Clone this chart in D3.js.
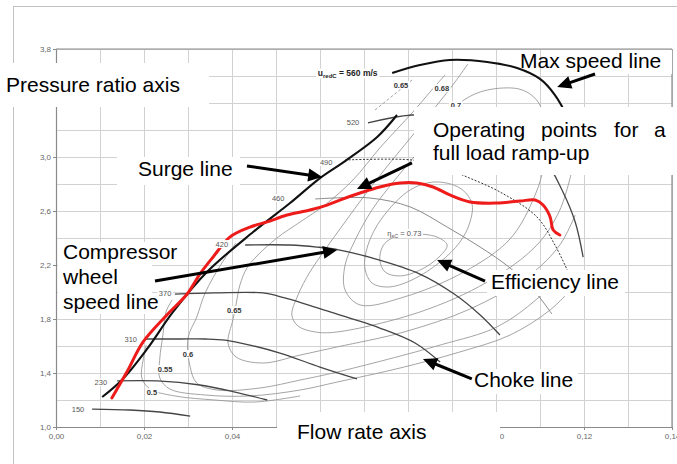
<!DOCTYPE html>
<html>
<head>
<meta charset="utf-8">
<script src="https://cdn.jsdelivr.net/npm/d3@7"></script>
<style>
  html, body { margin: 0; padding: 0; background: #fff; }
  svg { display: block; font-family: "Liberation Sans", Arial, Helvetica, sans-serif; }
  .small-text { opacity: 0.99; }
</style>
</head>
<body>
<svg id="chart" width="677" height="464"></svg>
<script>
// ---- axis ticks ----
const xTicks = [0, 0.02, 0.04, 0.06, 0.08, 0.10, 0.12, 0.14];
const yTicks = [1.0, 1.4, 1.8, 2.2, 2.6, 3.0, 3.4, 3.8];
// tick labels that sit under the axis captions are left blank
const xTicksUnlabelled = [0.06, 0.08];

// ---- surge line and full-load ramp-up (flow rate, pressure ratio) ----
const surgeLine = [[.0105,1.222],[.0152,1.356],[.0207,1.578],[.0266,1.852],[.0343,2.148],[.0448,2.444],
  [.0532,2.659],[.0600,2.844],[.0657,2.970],[.0730,3.148],[.0775,3.311]];
const rampUp = [[.0127,1.215],[.0161,1.407],[.0198,1.630],[.0252,1.830],[.0298,1.985],[.0327,2.133],
  [.0357,2.259],[.0395,2.407],[.0441,2.481],[.0480,2.519],[.0525,2.570],[.0577,2.607],[.0616,2.644],
  [.0645,2.681],[.0691,2.733],[.0736,2.778],[.0782,2.807],[.0820,2.807],[.0857,2.778],[.0895,2.719],
  [.0941,2.667],[.1002,2.659],[.1055,2.674],[.1089,2.681],[.1107,2.644],[.1123,2.556],[.1130,2.459],[.1145,2.422]];

// ---- compressor wheel speed lines (u_redC, m/s) ----
const speed150 = [[.0082,1.133],[.0168,1.126],[.0236,1.111],[.0305,1.081]];
const speed230 = [[.0139,1.341],[.0230,1.341],[.0327,1.311],[.0407,1.259],[.0480,1.200]];
const speed310 = [[.0202,1.652],[.0282,1.652],[.0339,1.652],[.0384,1.644],[.0441,1.607],[.0509,1.548],[.0600,1.444],[.0684,1.356]];
const speed370 = [[.0270,1.985],[.0361,1.993],[.0470,1.993],[.0520,1.956],[.0623,1.852],[.0736,1.733],[.0816,1.622],[.0873,1.481]];
const speed420 = [[.0430,2.348],[.0532,2.348],[.0593,2.333],[.0645,2.311],[.0718,2.252],[.0827,2.133],[.0905,1.985],[.0964,1.830],[.1009,1.681]];
const speed460 = [[.0589,2.689],[.0714,2.696],[.0805,2.630],[.0889,2.481],[.0964,2.333],[.1032,2.178],[.1089,2.000],[.1127,1.837]];
const speed490 = [[.0657,2.978],[.0809,2.978],[.0873,2.933],[.0934,2.852],[.1009,2.741],[.1093,2.556],[.1134,2.348],[.1164,2.148]];
const speed520 = [[.0709,3.252],[.0809,3.311],[.0941,3.289],[.1043,3.163],[.1111,2.978],[.1150,2.756],[.1180,2.519],[.1198,2.259]];
const speedMax = [[.0764,3.622],[.0827,3.681],[.0895,3.719],[.0980,3.704],[.1048,3.659],[.1100,3.578],[.1134,3.459],[.1164,3.289]];
const speedLabels = ["150","230","310","370","420","460","490","520"];
const speedLabelAt = [[.0050,1.133],[.0102,1.333],[.0170,1.652],[.0248,1.993],[.0377,2.356],[.0505,2.696],[.0614,2.963],[.0675,3.259]];

// ---- isentropic efficiency contours ----
const eta050 = [[.0205,1.607],[.0198,1.496],[.0195,1.363],[.0214,1.281],[.0270,1.230],[.0361,1.200],[.0452,1.185],[.0555,1.230]];
const eta055 = [[.0264,1.941],[.0250,1.852],[.0243,1.681],[.0236,1.511],[.0236,1.363],[.0259,1.281],[.0339,1.237],[.0441,1.230],
  [.0555,1.274],[.0639,1.333],[.0782,1.437],[.0918,1.556],[.1032,1.681],[.1123,1.867],[.1180,2.052]];
const eta060 = [[.0409,2.363],[.0377,2.215],[.0339,1.993],[.0320,1.815],[.0300,1.659],[.0305,1.444],[.0320,1.326],[.0366,1.274],
  [.0464,1.289],[.0555,1.348],[.0639,1.407],[.0873,1.607],[.1002,1.741],[.1093,1.948],[.1157,2.163]];
const eta065 = [[.0884,3.607],[.0850,3.481],[.0811,3.333],[.0736,3.067],[.0675,2.830],[.0611,2.644],[.0555,2.519],[.0502,2.400],
  [.0459,2.274],[.0434,2.178],[.0418,2.052],[.0409,1.904],[.0402,1.793],[.0391,1.622],[.0409,1.519],[.0470,1.474],[.0555,1.533],
  [.0639,1.593],[.0791,1.704],[.0941,1.874],[.1077,2.126],[.1145,2.348],[.1180,2.570]];
const eta065Ext = [[.0725,3.348],[.0809,3.570]];
const eta068 = [[.0936,3.689],[.0907,3.556],[.0866,3.385],[.0811,3.163],[.0759,2.956],[.0702,2.719],[.0657,2.519],[.0611,2.311],
  [.0577,2.148],[.0550,1.978],[.0536,1.830],[.0550,1.748],[.0589,1.704],[.0639,1.704],[.0827,1.852],[.0980,2.074],[.1093,2.348],
  [.1145,2.607],[.1173,2.904]];
const eta070 = [[.0927,3.422],[.0980,3.496],[.1052,3.504],[.1086,3.444],[.1105,3.348],[.1114,3.163],[.1109,2.941],[.1089,2.719],
  [.1032,2.393],[.0927,2.148],[.0791,1.963],[.0691,1.904],[.0657,2.015],[.0657,2.200],[.0680,2.385],[.0718,2.607],[.0770,2.830],
  [.0827,3.052],[.0877,3.259]];
const eta072 = [[.0805,2.756],[.0861,2.815],[.0918,2.770],[.0945,2.659],[.0941,2.519],[.0918,2.370],[.0873,2.222],[.0809,2.089],
  [.0755,2.037],[.0718,2.067],[.0702,2.178],[.0709,2.348],[.0741,2.548]];
const eta073 = [[.0764,2.400],[.0743,2.341],[.0736,2.237],[.0748,2.148],[.0782,2.119],[.0832,2.170],[.0873,2.267],[.0889,2.348],
  [.0866,2.407],[.0809,2.430]];
const etaLabels = ["0.5","0.55","0.6","0.65","0.65","0.68","0.7"];
const etaLabelAt = [[.0218,1.259],[.0248,1.430],[.0300,1.541],[.0405,1.867],[.0784,3.533],[.0877,3.511],[.0909,3.385]];

// ---- annotation arrows: [tail, tip] in (flow rate, pressure ratio) ----
const arrowSurge      = [[.0434,2.933],[.0605,2.852]];
const arrowMaxSpeed   = [[.1225,3.615],[.1139,3.519]];
const arrowOperating  = [[.0809,2.956],[.0684,2.763]];
const arrowWheel      = [[.0225,2.081],[.0639,2.311]];
const arrowEfficiency = [[.0975,2.081],[.0866,2.237]];
const arrowChoke      = [[.0945,1.356],[.0834,1.504]];

// ---------------------------------------------------------------------
const svg = d3.select("#chart");
const x = d3.scaleLinear().domain([0, 0.14]).range([56, 672]);
const y = d3.scaleLinear().domain([1, 3.8]).range([427, 49]);
const comma = f => v => d3.format(f)(v).replace(".", ",");

// outer frame
svg.append("rect").attr("x", 13.5).attr("y", 6.5).attr("width", 700).attr("height", 500)
  .attr("fill", "#fff").attr("stroke", "#c2c2c2");

// grid
const grid = svg.append("g").attr("stroke", "#d2d2d2").attr("stroke-width", 1);
x.ticks(14).forEach(v => grid.append("line")
  .attr("x1", Math.round(x(v)) + 0.5).attr("x2", Math.round(x(v)) + 0.5)
  .attr("y1", y(3.8)).attr("y2", y(1)));
y.ticks(14).forEach(v => grid.append("line")
  .attr("y1", Math.round(y(v)) + 0.5).attr("y2", Math.round(y(v)) + 0.5)
  .attr("x1", x(0)).attr("x2", x(0.14)));

// frame of the plot area
const frame = svg.append("g").attr("stroke", "#8a8a8a").attr("stroke-width", 1.2);
frame.append("line").attr("x1", x(0)).attr("x2", x(0.14)).attr("y1", y(3.8)).attr("y2", y(3.8));
frame.append("line").attr("x1", x(0.14)).attr("x2", x(0.14)).attr("y1", y(3.8)).attr("y2", y(1));

// axes
const xFmt = v => xTicksUnlabelled.some(u => Math.abs(u - v) < 1e-9) ? "" : comma(".2f")(v);
const xAxis = svg.append("g").attr("class", "small-text").attr("transform", `translate(0,${y(1)})`)
  .call(d3.axisBottom(x).tickValues(xTicks).tickSize(3).tickSizeOuter(0).tickPadding(3).tickFormat(xFmt));
const yAxis = svg.append("g").attr("class", "small-text").attr("transform", `translate(${x(0)},0)`)
  .call(d3.axisLeft(y).tickValues(yTicks).tickSize(3).tickSizeOuter(0).tickPadding(2).tickFormat(comma(".1f")));
[xAxis, yAxis].forEach(a => {
  a.select(".domain").attr("stroke", "#8a8a8a").attr("stroke-width", 1.2);
  a.selectAll(".tick line").attr("stroke", "#8a8a8a");
  a.selectAll("text").attr("fill", "#666").attr("font-size", 8).attr("font-family", "Liberation Sans, Arial, sans-serif");
});

const smooth = d3.line().x(d => x(d[0])).y(d => y(d[1])).curve(d3.curveCatmullRom.alpha(0.5));
const loop = d3.line().x(d => x(d[0])).y(d => y(d[1])).curve(d3.curveCatmullRomClosed.alpha(0.5));

// efficiency contours
const contours = svg.append("g").attr("fill", "none").attr("stroke", "#939393").attr("stroke-width", 0.85);
[eta050, eta055, eta060, eta065, eta068].forEach(c => contours.append("path").attr("d", smooth(c)));
contours.append("path").attr("d", smooth(eta065Ext)).attr("stroke-dasharray", "3,2");
[eta070, eta072, eta073].forEach(c => contours.append("path").attr("d", loop(c)));

// speed lines
const speeds = svg.append("g").attr("fill", "none");
[speed150, speed230, speed310, speed370, speed420, speed520].forEach(s =>
  speeds.append("path").attr("d", smooth(s)).attr("stroke", "#454545").attr("stroke-width", 1.3));
speeds.append("path").attr("d", smooth(speed460)).attr("stroke", "#8a8a8a").attr("stroke-width", 1);
speeds.append("path").attr("d", smooth(speed490)).attr("stroke", "#333").attr("stroke-width", 1)
  .attr("stroke-dasharray", "2,1.6");
speeds.append("path").attr("d", smooth(speedMax)).attr("stroke", "#111").attr("stroke-width", 2.1);

// surge line and ramp-up
svg.append("path").attr("d", smooth(surgeLine)).attr("fill", "none").attr("stroke", "#111").attr("stroke-width", 2.1);
svg.append("path").attr("d", smooth(rampUp)).attr("fill", "none").attr("stroke", "#ee1b1b")
  .attr("stroke-width", 3).attr("stroke-linejoin", "round").attr("stroke-linecap", "round");

// small map labels, each on a white patch that interrupts the line beneath
const labelLayer = svg.append("g").attr("class", "small-text");
function mapLabel(px, py, build, anchor) {
  const g = labelLayer.append("g");
  const bg = g.append("rect").attr("fill", "#fff");
  const t = g.append("text").attr("x", px).attr("y", py).attr("dy", "0.35em")
    .attr("text-anchor", anchor || "middle").attr("font-size", 7.5);
  build(t);
  const b = t.node().getBBox();
  bg.attr("x", b.x - 1.5).attr("y", b.y + 0.5).attr("width", b.width + 3).attr("height", b.height - 1);
  return t;
}
speedLabels.forEach((s, i) => mapLabel(x(speedLabelAt[i][0]), y(speedLabelAt[i][1]),
  t => t.attr("fill", "#555").text(s)));
etaLabels.forEach((s, i) => mapLabel(x(etaLabelAt[i][0]), y(etaLabelAt[i][1]),
  t => t.attr("fill", "#333").attr("font-weight", "bold").text(s)));
mapLabel(x(0.0753), y(2.437), t => {
  t.attr("fill", "#555");
  t.append("tspan").text("η");
  t.append("tspan").attr("font-size", 5.5).attr("dy", 2).text("sC");
  t.append("tspan").attr("dy", -2).text(" = 0.73");
}, "start");
mapLabel(x(0.0595), y(3.622), t => {
  t.attr("fill", "#222").attr("font-size", 8.5).attr("font-weight", "bold");
  t.append("tspan").text("u");
  t.append("tspan").attr("font-size", 6).attr("dy", 2).text("redC");
  t.append("tspan").attr("dy", -2).text(" = 560 m/s");
}, "start");

// annotation boxes
const boxes = [
  [0, 63, 209, 44],      // pressure ratio axis
  [117, 157, 123, 28],   // surge line
  [545, 50, 127, 24],    // max speed line
  [414, 107, 263, 68],   // operating points
  [58, 242, 94, 72],     // compressor wheel speed line
  [487, 270, 138, 26],   // efficiency line
  [470, 369, 108, 25],   // choke line
  [277, 412, 223, 52]    // flow rate axis
];
boxes.forEach(b => svg.append("rect").attr("x", b[0]).attr("y", b[1]).attr("width", b[2]).attr("height", b[3]).attr("fill", "#fff"));

// annotation texts
const ann = svg.append("g").attr("font-size", 21).attr("fill", "#000");
ann.append("text").attr("x", 6).attr("y", 92).text("Pressure ratio axis");
ann.append("text").attr("x", 138).attr("y", 176).text("Surge line");
ann.append("text").attr("x", 520).attr("y", 68).text("Max speed line");
const op = ann.append("text").attr("y", 137);
[["Operating", 433], ["points", 541], ["for", 614], ["a", 654]].forEach(w => op.append("tspan").attr("x", w[1]).text(w[0]));
ann.append("text").attr("x", 433).attr("y", 160).text("full load ramp-up");
ann.append("text").attr("x", 63).attr("y", 259).text("Compressor");
ann.append("text").attr("x", 63).attr("y", 284).text("wheel");
ann.append("text").attr("x", 63).attr("y", 309).text("speed line");
ann.append("text").attr("x", 491).attr("y", 289).text("Efficiency line");
ann.append("text").attr("x", 474).attr("y", 387).text("Choke line");
ann.append("text").attr("x", 297).attr("y", 439).text("Flow rate axis");

// arrows
function arrow(a) {
  const x0 = x(a[0][0]), y0 = y(a[0][1]), x1 = x(a[1][0]), y1 = y(a[1][1]);
  const dx = x1 - x0, dy = y1 - y0, len = Math.hypot(dx, dy), ux = dx / len, uy = dy / len;
  const hl = 14, hw = 6.5;
  const bx = x1 - ux * hl, by = y1 - uy * hl;
  svg.append("line").attr("x1", x0).attr("y1", y0).attr("x2", bx + ux * 2).attr("y2", by + uy * 2)
    .attr("stroke", "#000").attr("stroke-width", 3);
  svg.append("path").attr("fill", "#000")
    .attr("d", `M${x1},${y1}L${bx - uy * hw},${by + ux * hw}L${bx + uy * hw},${by - ux * hw}Z`);
}
[arrowSurge, arrowMaxSpeed, arrowOperating, arrowWheel, arrowEfficiency, arrowChoke].forEach(arrow);
</script>
</body>
</html>
